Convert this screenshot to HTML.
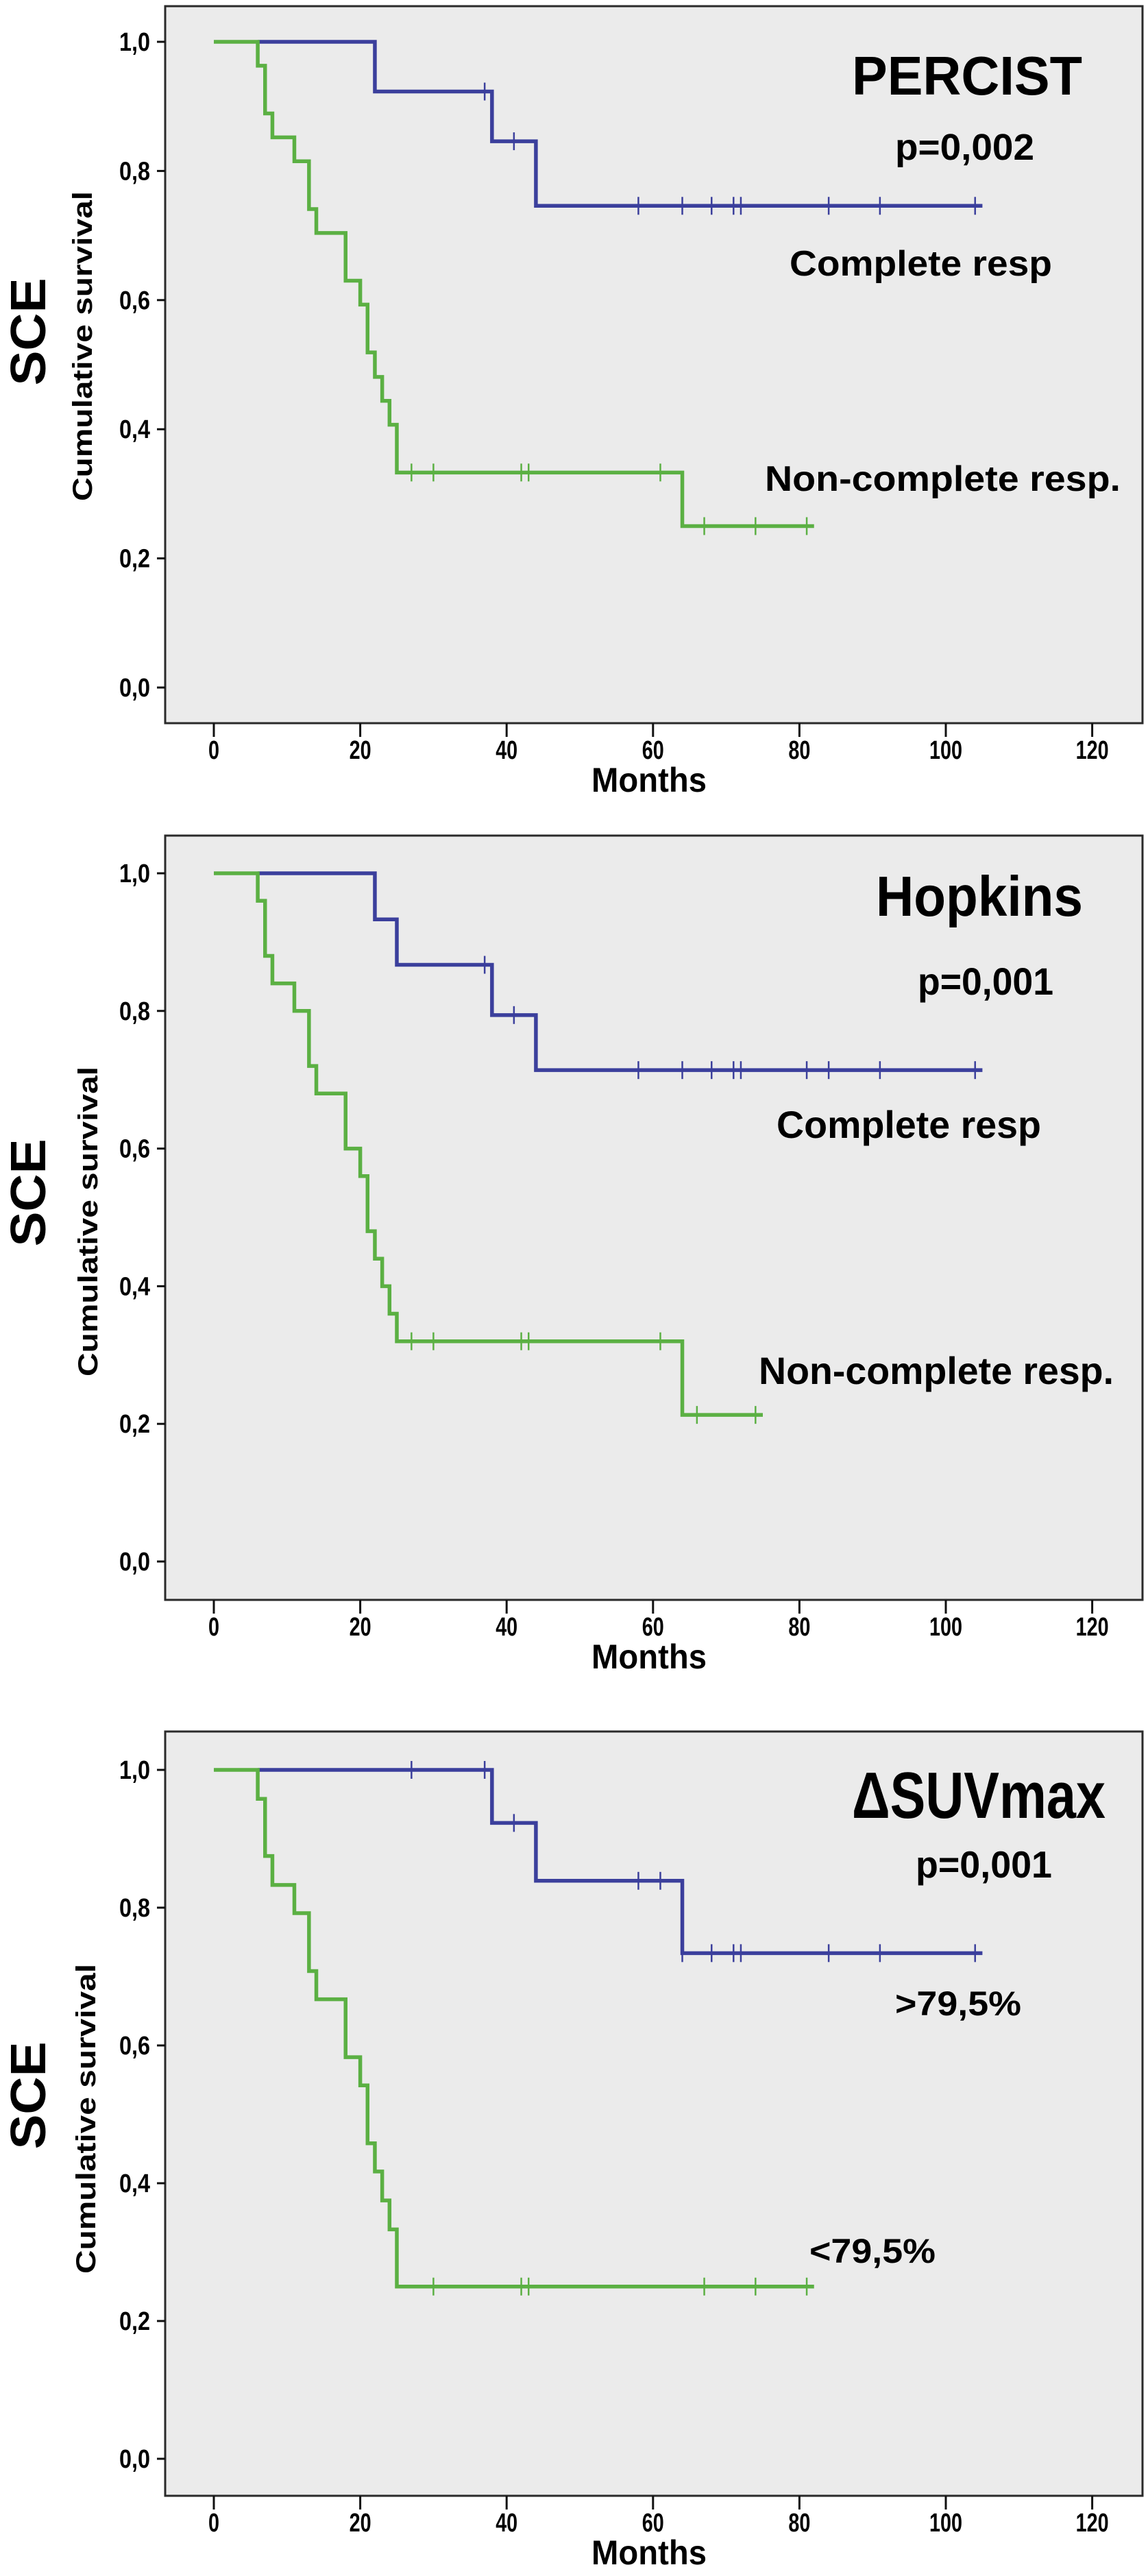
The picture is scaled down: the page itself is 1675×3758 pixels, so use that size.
<!DOCTYPE html>
<html><head><meta charset="utf-8"><style>
html,body{margin:0;padding:0;background:#fff;}
svg{display:block;}
text{font-family:"Liberation Sans",Arial,sans-serif;font-weight:bold;fill:#000;}
</style></head>
<body>
<svg id="fig" width="1675" height="3758" viewBox="0 0 1675 3758" xmlns="http://www.w3.org/2000/svg"></svg>
<script>
// ---- data ----
const xTicks = [0, 20, 40, 60, 80, 100, 120];
const yTicks = [0, 0.2, 0.4, 0.6, 0.8, 1.0];
const yTickLabels = ["0,0", "0,2", "0,4", "0,6", "0,8", "1,0"];

// PERCIST
const percistBlueTimes = [22, 38, 44];
const percistBlueSurv = [0.923, 0.846, 0.746];
const percistBlueCens = [37, 41, 58, 64, 68, 71, 72, 84, 91, 104];
const percistGreenTimes = [6, 7, 8, 11, 13, 14, 18, 20, 21, 22, 23, 24, 25, 64];
const percistGreenSurv = [0.963, 0.889, 0.852, 0.815, 0.741, 0.704, 0.630, 0.593, 0.519, 0.481, 0.444, 0.407, 0.333, 0.25];
const percistGreenCens = [27, 30, 42, 43, 61, 67, 74, 81];

// Hopkins
const hopkinsBlueTimes = [22, 25, 38, 44];
const hopkinsBlueSurv = [0.933, 0.867, 0.794, 0.714];
const hopkinsBlueCens = [37, 41, 58, 64, 68, 71, 72, 81, 84, 91, 104];
const hopkinsGreenTimes = [6, 7, 8, 11, 13, 14, 18, 20, 21, 22, 23, 24, 25, 64];
const hopkinsGreenSurv = [0.96, 0.88, 0.84, 0.80, 0.72, 0.68, 0.60, 0.56, 0.48, 0.44, 0.40, 0.36, 0.32, 0.213];
const hopkinsGreenCens = [27, 30, 42, 43, 61, 66, 74];

// dSUVmax
const suvBlueTimes = [38, 44, 64];
const suvBlueSurv = [0.923, 0.839, 0.734];
const suvBlueCens = [27, 37, 41, 58, 61, 64, 68, 71, 72, 84, 91, 104];
const suvGreenTimes = [6, 7, 8, 11, 13, 14, 18, 20, 21, 22, 23, 24, 25];
const suvGreenSurv = [0.958, 0.875, 0.833, 0.792, 0.708, 0.667, 0.583, 0.542, 0.458, 0.417, 0.375, 0.333, 0.25];
const suvGreenCens = [30, 42, 43, 67, 74, 81];

// ---- layout ----
const NS = "http://www.w3.org/2000/svg";
const svg = document.getElementById("fig");
const LEFT = 241, RIGHT = 1667, X0 = 312, XPM = 10.68;
const BLUE = "#3b3f9c", GREEN = "#5bb043";
function xs(t){ return X0 + t * XPM; }
function mk(tag, attrs, parent){
  const e = document.createElementNS(NS, tag);
  for (const k in attrs) e.setAttribute(k, attrs[k]);
  (parent || svg).appendChild(e);
  return e;
}
function txt(str, x, y, size, len, parent, anchor, rot){
  const t = mk("text", {x:x, y:y, "font-size":size, "text-anchor":anchor||"start"}, parent);
  if (len) { t.setAttribute("textLength", len); t.setAttribute("lengthAdjust", "spacingAndGlyphs"); }
  if (rot) t.setAttribute("transform", rot);
  t.textContent = str;
  return t;
}

const panels = [
  {name:"percist", top:9, bottom:1055, y1:61, y0:1003,
   blue:[percistBlueTimes, percistBlueSurv, percistBlueCens, 6, 105],
   green:[percistGreenTimes, percistGreenSurv, percistGreenCens, 0, 82],
   title:["PERCIST", 1243, 138, 80, 336], p:["p=0,002", 1306, 233, 54, 203],
   l1:["Complete resp", 1152, 402, 52, 383], l2:["Non-complete resp.", 1116, 716, 52, 519],
   sce:[40, 484], cum:[120, 505]},
  {name:"hopkins", top:1219, bottom:2334, y1:1274, y0:2278,
   blue:[hopkinsBlueTimes, hopkinsBlueSurv, hopkinsBlueCens, 6, 105],
   green:[hopkinsGreenTimes, hopkinsGreenSurv, hopkinsGreenCens, 0, 75],
   title:["Hopkins", 1278, 1336, 83, 302], p:["p=0,001", 1339, 1451, 56, 198],
   l1:["Complete resp", 1133, 1660, 56, 386], l2:["Non-complete resp.", 1107, 2019, 56, 518],
   sce:[40, 1740], cum:[128, 1782]},
  {name:"suvmax", top:2526, bottom:3641, y1:2582, y0:3587,
   blue:[suvBlueTimes, suvBlueSurv, suvBlueCens, 6, 105],
   green:[suvGreenTimes, suvGreenSurv, suvGreenCens, 0, 82],
   title:["\u0394SUVmax", 1243, 2652, 96, 370], p:["p=0,001", 1336, 2739, 55, 199],
   l1:[">79,5%", 1306, 2940, 50, 184], l2:["<79,5%", 1181, 3301, 50, 184],
   sce:[40, 3057], cum:[125, 3091]}
];

panels.forEach(P => {
  const g = mk("g", {});
  
  
  const ys = v => P.y0 - v * (P.y0 - P.y1);
  const bg = mk("rect", {x:LEFT, y:P.top, width:RIGHT-LEFT, height:P.bottom-P.top, fill:"#ebebeb", stroke:"#2a2a2a", "stroke-width":3}, g);
  
  
  yTicks.forEach((v, i) => {
    const y = ys(v);
    const tk = mk("line", {x1:LEFT-12, x2:LEFT, y1:y, y2:y, stroke:"#111", "stroke-width":3}, g);
    
    
    const tl = txt(yTickLabels[i], LEFT-22, y+13, 38, 45, g, "end");
    
    
  });
  xTicks.forEach(v => {
    const x = xs(v);
    const tk = mk("line", {x1:x, x2:x, y1:P.bottom, y2:P.bottom+20, stroke:"#111", "stroke-width":3}, g);
    
    
    const tl = txt(String(v), x, P.bottom+52, 38, String(v).length*16, g, "middle");
    
    
  });
  const mt = txt("Months", 947, P.bottom+100, 50, 168, g, "middle");
  
  
  const sc = txt("SCE", 0, 0, 72, 157, g, "middle", "translate(" + (P.sce[0]+26) + "," + P.sce[1] + ") rotate(-90)");
  
  
  const cu = txt("Cumulative survival", 0, 0, 40, 452, g, "middle", "translate(" + (P.cum[0]+14) + "," + P.cum[1] + ") rotate(-90)");
  
  

  function series(spec, color, w, nm){
    const [times, surv, cens, start, end] = spec;
    let d = "M" + xs(start) + " " + ys(1);
    times.forEach((t, i) => { d += " H" + xs(t) + " V" + ys(surv[i]); });
    d += " H" + xs(end);
    const p = mk("path", {d:d, fill:"none", stroke:color, "stroke-width":w, "stroke-linejoin":"miter"}, g);
    
    
    cens.forEach(c => {
      let s = 1;
      times.forEach((t, i) => { if (t <= c) s = surv[i]; });
      const y = ys(s);
      const m = mk("line", {x1:xs(c), x2:xs(c), y1:y-13, y2:y+13, stroke:color, "stroke-width":2.5}, g);
      
      
    });
  }
  series(P.blue, BLUE, 5.5, "complete-response");
  series(P.green, GREEN, 5.5, "non-complete-response");

  [["title", P.title], ["p-value", P.p], ["group-label-upper", P.l1], ["group-label-lower", P.l2]].forEach(([nm, a]) => {
    const t = txt(a[0], a[1], a[2], a[3], a[4], g);
    
    
  });
});
</script>
</body></html>
